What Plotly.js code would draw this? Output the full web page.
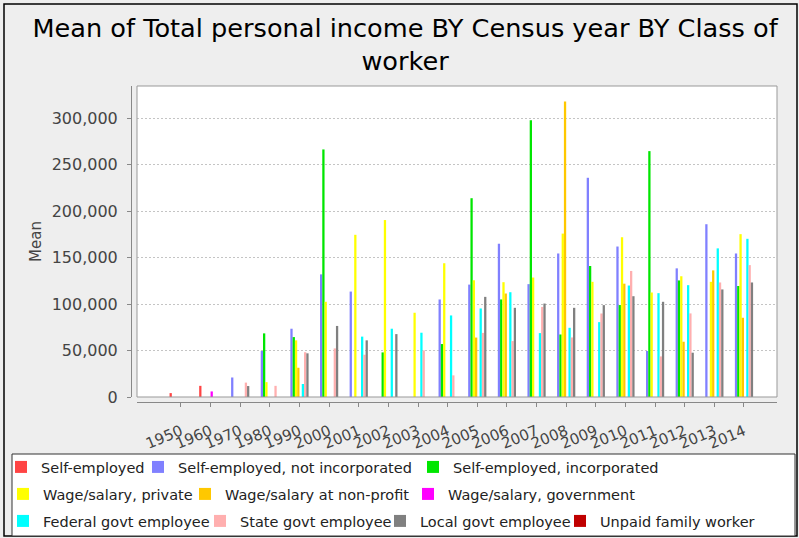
<!DOCTYPE html>
<html><head><meta charset="utf-8">
<script src="https://cdn.plot.ly/plotly-3.0.1.min.js"></script>
<style>html,body{margin:0;padding:0;background:#eeeeee;}#chart{width:799px;height:538px;}</style>
</head><body><div id="chart"></div>
<script>
// ---- data ----
const years = ['1950','1960','1970','1980','1990','2000','2001','2002','2003','2004','2005','2006','2007','2008','2009','2010','2011','2012','2013','2014'];
const seriesNames = ['Self-employed','Self-employed, not incorporated','Self-employed, incorporated','Wage/salary, private','Wage/salary at non-profit','Wage/salary, government','Federal govt employee','State govt employee','Local govt employee','Unpaid family worker'];
const selfEmployed      = [4200,12000,null,null,null,null,null,null,null,null,null,null,null,null,null,null,null,null,null,null];
const selfNotInc        = [null,null,21000,49500,73500,132000,113500,null,null,105000,121000,165000,121500,154500,236000,162000,49500,138500,186000,154500];
const selfInc           = [null,null,null,68500,64500,266500,null,48000,null,57000,214000,105000,298000,67300,141000,99000,264700,125500,null,119500];
const wagePrivate       = [null,null,null,16000,61000,102500,174600,190500,90700,144000,125700,123600,128600,175900,124000,172000,112500,130000,124000,175300];
const wageNonProfit     = [null,null,null,null,31500,null,null,null,null,null,64000,111400,null,318200,null,122000,null,59500,136300,85300];
const wageGovernment    = [null,6000,null,null,null,null,null,null,null,null,null,null,null,null,null,null,null,null,null,null];
const federalGovt       = [null,null,null,null,14000,null,65000,73500,69200,87800,95300,112800,68800,74500,80600,120000,111800,120400,160000,170300];
const stateGovt         = [null,null,15500,12000,48200,52300,45500,null,50200,23300,69000,60200,97000,64100,89900,135700,43700,90000,123300,142000];
const localGovt         = [null,null,11800,null,47000,76500,61000,67700,null,null,107800,96000,100600,96000,98900,108500,102500,47700,115800,123300];
const unpaidFamily      = [null,null,null,null,null,null,null,null,null,null,null,null,null,null,null,null,null,null,null,null];
const seriesValues = [selfEmployed,selfNotInc,selfInc,wagePrivate,wageNonProfit,wageGovernment,federalGovt,stateGovt,localGovt,unpaidFamily];

// ---- styles ----
const seriesColors = ['#FF4444','#8080FF','#00E600','#FFFF00','#FFC800','#FF00FF','#00FFFF','#FFAFAF','#808080','#C00000'];
const FONT = 'DejaVu Sans';
const W = 799, H = 538;
const L = 131, R = 22, T = 86, B = 136;
const PW = W - L - R, PH = H - T - B;
const fx = px => (px - L) / PW;
const fy = py => (H - B - py) / PH;
// legend item text positions [textX, rowY]
const legendPos = [[33,467],[170,467],[445,467],[35,494],[217,494],[440,494],[35,521],[232,521],[412,521],[592,521]];

const traces = seriesNames.map((name, i) => ({
  type: 'bar', name: name, x: years, y: seriesValues[i],
  marker: {color: seriesColors[i], line: {width: 0}},
  legend: i === 0 ? 'legend' : 'legend' + (i + 1),
  hoverinfo: 'x+y+name'
}));

const layout = {
  width: W, height: H,
  paper_bgcolor: '#eeeeee', plot_bgcolor: '#ffffff',
  font: {family: FONT, size: 15, color: '#444444'},
  margin: {l: L, r: R, t: T, b: B, pad: 0, autoexpand: false},
  title: {text: 'Mean of Total personal income BY Census year BY Class of<br>worker',
          font: {family: FONT, size: 25.6, color: '#000000'},
          xref: 'container', yref: 'container', x: 0.507, xanchor: 'center', y: 1 - 37 / H, yanchor: 'top'},
  barmode: 'group', bargap: 0.2312, bargroupgap: 0,
  xaxis: {type: 'category', domain: [6 / PW, 1], range: [-1.4827, 20.114], anchor: 'free', position: 0,
          showline: true, linecolor: '#888888', linewidth: 1, ticks: 'outside', ticklen: 4, tickcolor: '#888888',
          tickangle: -22.5, showgrid: false, zeroline: false, fixedrange: true, ticklabelstandoff: 10,
          tickfont: {family: FONT, size: 15, color: '#444444'}},
  yaxis: {domain: [5 / PH, 1], range: [0, 334800], anchor: 'free', position: 0,
          showline: true, linecolor: '#888888', linewidth: 1, ticks: 'outside', ticklen: 4, tickcolor: '#888888',
          dtick: 50000, tick0: 0, tickformat: ',d', ticklabelstandoff: 6,
          showgrid: true, gridcolor: '#c4c4c4', griddash: '2px,2px', gridwidth: 1, zeroline: false,
          tickfont: {family: FONT, size: 16, color: '#444444'},
          title: {text: 'Mean', font: {family: FONT, size: 15, color: '#444444'}, standoff: 5}},
  showlegend: true,
  shapes: [
    {type: 'rect', xref: 'paper', yref: 'paper', x0: fx(4), x1: fx(797), y0: fy(536), y1: fy(4), line: {color: '#000000', width: 1.5}, fillcolor: 'rgba(0,0,0,0)', layer: 'below'},
    {type: 'rect', xref: 'paper', yref: 'paper', x0: fx(12), x1: fx(795), y0: fy(536), y1: fy(454), line: {color: '#333333', width: 1}, fillcolor: '#ffffff', layer: 'below'},
    {type: 'rect', xref: 'paper', yref: 'paper', x0: 6 / PW, x1: 1, y0: 5 / PH, y1: 1, line: {color: '#999999', width: 1}, fillcolor: 'rgba(0,0,0,0)', layer: 'above'}
  ]
};
legendPos.forEach((p, i) => {
  const key = i === 0 ? 'legend' : 'legend' + (i + 1);
  layout[key] = {x: fx(p[0] - 32), y: fy(p[1]), xanchor: 'left', yanchor: 'middle', orientation: 'h',
                 bgcolor: 'rgba(0,0,0,0)', borderwidth: 0, font: {family: FONT, size: 14.5, color: '#222222'}};
});

Plotly.newPlot('chart', traces, layout, {displayModeBar: false, staticPlot: true});
</script></body></html>
